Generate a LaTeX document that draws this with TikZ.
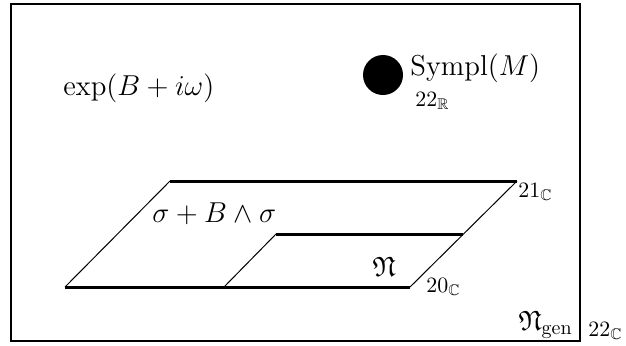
\documentclass[tikz,border=0pt]{standalone}
\usepackage{amsmath,amssymb}
\usepackage{tikz}
\usetikzlibrary{positioning}

\begin{document}
\begin{tikzpicture}[x=.5pt,y=.5pt,
    edge/.style={line width=1.5pt},
    slant/.style={line width=.5pt},
    big/.style={inner sep=0pt,anchor=base west,font=\fontsize{14}{17}\selectfont},
    tag/.style={inner sep=0pt,anchor=base west,font=\fontsize{11}{13}\selectfont}]
  \useasboundingbox(0,0)rectangle(626,345);
  \draw[line width=1.3pt](11,4)rectangle(580,341);
  % corners of the two sheets
  \coordinate(A)at(65,58);
  \coordinate(B)at(410,58);
  \coordinate(C)at(517,164);
  \coordinate(D)at(170,164);
  \coordinate(E)at(224,58);
  \coordinate(F)at(276,111);
  \coordinate(G)at(463,111);
  \draw[edge](A)--(B);
  \draw[edge](D)--(C);
  \draw[edge](F)--(G);
  \draw[slant](A)--(D);
  \draw[slant](B)--(C);
  \draw[slant](E)--(F);
  \fill(383,270)coordinate(dot)circle[radius=20];
  \node[big](expo)at(63,250){$\exp(B+i\omega)$};
  \node[big,font=\fontsize{15}{18}\selectfont](sympl)at(410,270){$\mathrm{Sympl}(M)$};
  \node[tag](dotlab)at(415,239){$22_{\mathbb{R}}$};
  \node[big](sheet)at(152,123){$\sigma+B\wedge\sigma$};
  \node[tag](sheetlab)at(518,148){$21_{\mathbb{C}}$};
  \node[big](nfrak)at(372,69){$\mathfrak{N}$};
  \node[tag](nfraklab)at(426,53){$20_{\mathbb{C}}$};
  \node[big](ngen)at(518,15){$\mathfrak{N}_{\mathrm{gen}}$};
  \node[tag](ngenlab)at(588,9){$22_{\mathbb{C}}$};
\end{tikzpicture}
\end{document}
